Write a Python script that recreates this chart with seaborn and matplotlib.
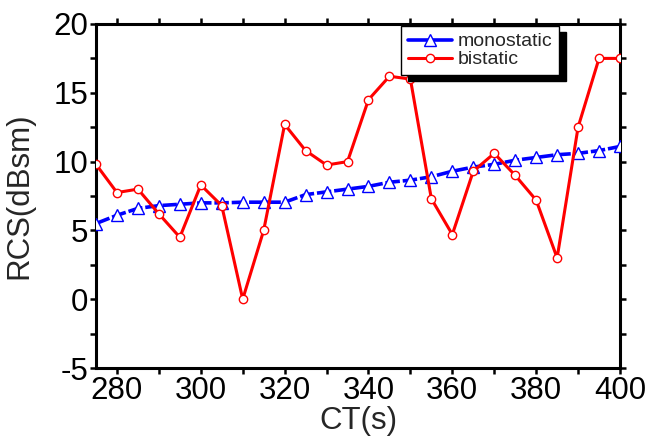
import numpy as np
import pandas as pd
import matplotlib
matplotlib.use("Agg")
import matplotlib.pyplot as plt
import seaborn as sns

ct = [275, 280, 285, 290, 295, 300, 305, 310, 315, 320, 325, 330, 335,
      340, 345, 350, 355, 360, 365, 370, 375, 380, 385, 390, 395, 400]
monostatic = [5.5, 6.1, 6.6, 6.8, 6.9, 7.0, 7.0, 7.05, 7.05, 7.05, 7.6, 7.8, 8.0,
              8.2, 8.5, 8.65, 8.9, 9.3, 9.6, 9.8, 10.1, 10.3, 10.5, 10.6, 10.8, 11.1]
bistatic = [9.8, 7.75, 8.0, 6.2, 4.5, 8.3, 6.8, 0.0, 5.0, 12.7, 10.8, 9.75, 10.0,
            14.5, 16.2, 16.0, 7.3, 4.7, 9.3, 10.6, 9.0, 7.2, 3.0, 12.5, 17.5, 17.5]
x_ticks = [280, 300, 320, 340, 360, 380, 400]
y_ticks = [-5, 0, 5, 10, 15, 20]

df = pd.DataFrame({"CT": ct, "monostatic": monostatic, "bistatic": bistatic})

sns.set_theme(style="ticks")
plt.rcParams['font.family'] = ['Liberation Sans', 'DejaVu Sans']
plt.rcParams['axes.unicode_minus'] = False

fig = plt.figure(figsize=(6.47, 4.45), dpi=100)
ax = fig.add_axes([96/647, 1-368/445, 524/647, 344/445])

sns.lineplot(data=df, x="CT", y="monostatic", ax=ax, color="#0000ff",
             linewidth=2.6, marker="^", markersize=8, markerfacecolor="white",
             markeredgecolor="#0000ff", markeredgewidth=1.0,
             label="monostatic", zorder=3)
ax.lines[-1].set_dashes([4, 0.8])
sns.lineplot(data=df, x="CT", y="bistatic", ax=ax, color="#ff0000",
             linewidth=2.2, marker="o", markersize=6, markerfacecolor="white",
             markeredgecolor="#ff0000", markeredgewidth=1.0,
             label="bistatic", zorder=4)

ax.set_xlim(275, 400)
ax.set_ylim(-5, 20)
ax.set_xticks(x_ticks)
ax.set_yticks(y_ticks)
ax.set_xticks(np.arange(290, 400, 20), minor=True)
ax.set_yticks(np.arange(-2.5, 20, 5), minor=True)
ax.tick_params(axis="both", which="both", direction="out", length=4, width=1.8,
               top=True, right=True, labeltop=False, labelright=False,
               labelsize=22.5, pad=1.5, color="black", labelcolor="black")
for sp in ax.spines.values():
    sp.set_visible(True)
    sp.set_linewidth(2.2)
    sp.set_color("black")

ax.set_xlabel("CT(s)", fontsize=22.5, labelpad=0)
ax.set_ylabel("RCS(dBsm)", fontsize=22.5, labelpad=14)

leg = ax.legend(loc="upper left", bbox_to_anchor=(0.582, 0.994), fontsize=14,
                frameon=True, fancybox=False, edgecolor="black", framealpha=1,
                borderpad=0.35, labelspacing=0.02, handlelength=2.3,
                handletextpad=0.25, borderaxespad=0,
                shadow={"ox": 5, "oy": -4, "color": "black", "alpha": 1})
leg.get_frame().set_linewidth(1.0)
for h in leg.get_lines():
    h.set_linestyle("-")

fig.savefig("out.png", dpi=100)
